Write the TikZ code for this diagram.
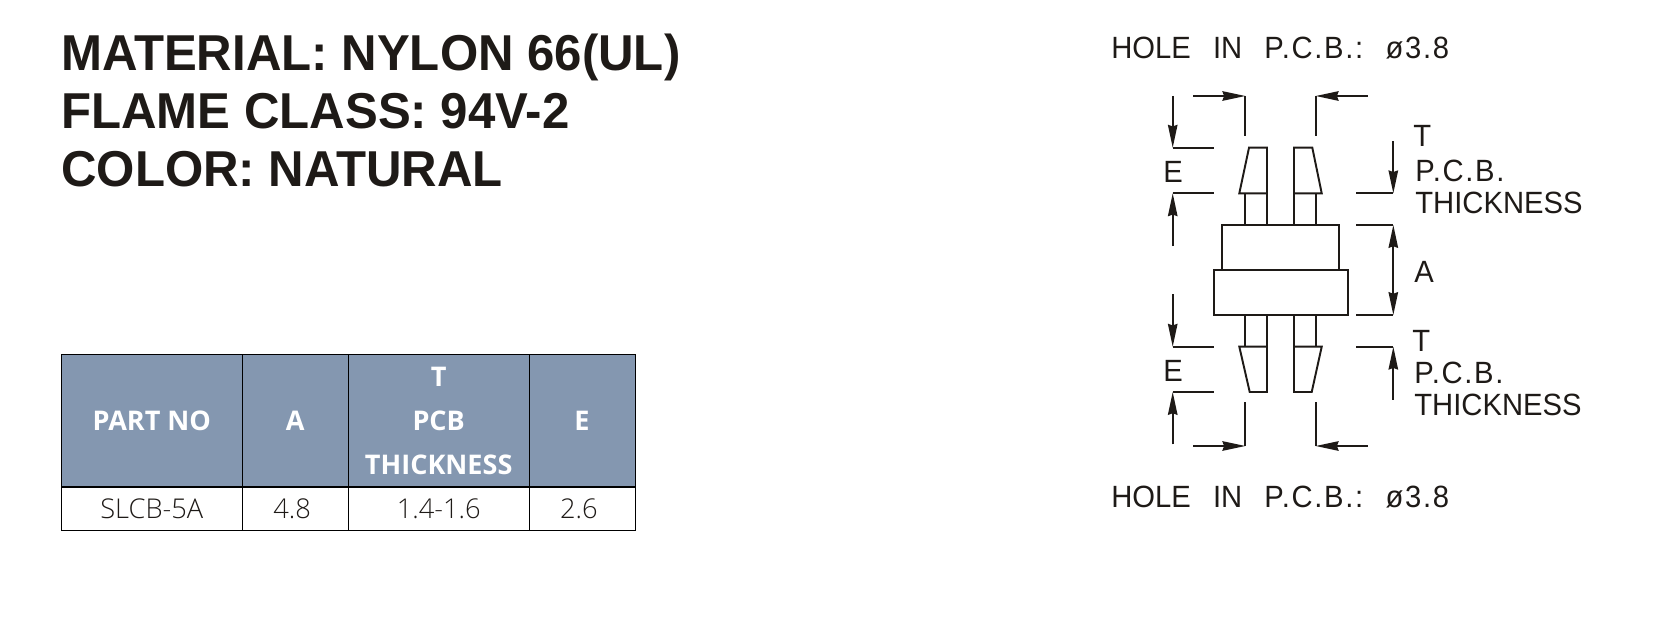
\documentclass[tikz,border=0pt]{standalone}
\usepackage{fontspec}
\setmainfont{Liberation Sans}
\newfontfamily\titlefont[FakeStretch=0.975]{Liberation Sans Bold}
\newfontfamily\tablefont{Open Sans}
\newfontfamily\tablelight{Open Sans Light}
\newfontfamily\cadfont[FakeStretch=0.95]{Liberation Sans}
\newfontfamily\cadwide[FakeStretch=0.95,LetterSpace=5.5]{Liberation Sans}
\usetikzlibrary{arrows.meta}
\definecolor{headblue}{HTML}{8497B0}
\definecolor{inkblack}{HTML}{1E1A17}
\begin{document}
\begin{tikzpicture}[x=0.02cm, y=-0.02cm, inkblack]
%% all coordinates are reference pixels, the y axis points down
\tikzstyle{arc}=[-{Stealth[length=13pt,width=5.4pt,inset=0.9pt]},line width=1pt]
\tikzstyle{part}=[line width=1.1pt,line join=miter]
\tikzstyle{ext}=[line width=1pt]
\tikzstyle{titletext}=[anchor=base west,inner sep=0pt,font=\fontsize{28.7}{30}\selectfont\titlefont]
\tikzstyle{cadtext}=[anchor=base west,inner sep=0pt,font=\fontsize{17.5}{20}\selectfont\cadfont]
\tikzstyle{headcell}=[draw=black,fill=headblue,text=white,line width=0.5pt,inner sep=0pt,minimum height=2.64cm,align=center,font=\fontsize{15.4}{25}\selectfont\tablefont\bfseries]
\tikzstyle{bodycell}=[draw=black,line width=0.5pt,inner sep=0pt,minimum height=0.86cm,font=\fontsize{15.5}{18}\selectfont\tablelight]
\useasboundingbox (0,0) rectangle (1665,642);
%% title lines
\node[titletext] at (61,71) (Material) {MATERIAL: NYLON 66(UL)};
\node[titletext] at (61,128.5) (Flame) {FLAME CLASS: 94V-2};
\node[titletext] at (61,186) (Colour) {COLOR: NATURAL};
%% table header
\node[headcell,minimum width=3.61cm] at (151.8,420.8) (HeadPart) {PART NO};
\node[headcell,minimum width=2.13cm] at (295.2,420.8) (HeadA) {A};
\node[headcell,minimum width=3.61cm] at (438.7,420.8) (HeadT) {T\\PCB\\THICKNESS};
\node[headcell,minimum width=2.12cm] at (582,420.8) (HeadE) {E};
%% table row
\node[bodycell,minimum width=3.61cm] at (151.8,508.5) (RowPart) {SLCB-5A};
\node[bodycell,minimum width=2.13cm] at (295.2,508.5) (RowA) {4.8\hspace*{3.6pt}};
\node[bodycell,minimum width=3.61cm] at (438.7,508.5) (RowT) {1.4-1.6};
\node[bodycell,minimum width=2.12cm] at (582,508.5) (RowE) {2.6\hspace*{3.6pt}};
%% drawing labels
\node[cadtext] at (1111,59) (HoleTop) {HOLE\hspace{8pt} IN\hspace{8pt} {\cadwide P.C.B.:}\hspace{6.5pt} {\cadwide ø3.8}};
\node[cadtext] at (1111,507) (HoleBottom) {HOLE\hspace{8pt} IN\hspace{8pt} {\cadwide P.C.B.:}\hspace{6.5pt} {\cadwide ø3.8}};
\node[cadtext] at (1163,182.5) (ETop) {E};
\node[cadtext] at (1163,381.5) (EBottom) {E};
\node[cadtext] at (1413,146.5) (TTop) {T};
\node[cadtext] at (1415,181) (PcbTop) {\cadwide P.C.B.};
\node[cadtext] at (1415,213) (ThickTop) {THICKNESS};
\node[cadtext] at (1414,282) (LabelA) {A};
\node[cadtext] at (1412,351) (TBottom) {T};
\node[cadtext] at (1414,383) (PcbBottom) {\cadwide P.C.B.};
\node[cadtext] at (1414,415) (ThickBottom) {THICKNESS};
%% body
\draw[part] (1222.3,270) -- (1222.3,225) -- (1338.7,225) -- (1338.7,270);
\draw[part] (1213.7,270) rectangle (1347.7,315);
%% upper pins
\draw[part] (1249,147.7) -- (1267,147.7) -- (1267,193.3) -- (1239.3,193.3) -- cycle;
\draw[part] (1294,147.7) -- (1312.3,147.7) -- (1321.7,193.3) -- (1294,193.3) -- cycle;
\draw[part] (1245.3,193.3) -- (1245.3,225);
\draw[part] (1267,193.3) -- (1267,225);
\draw[part] (1294,193.3) -- (1294,225);
\draw[part] (1315.7,193.3) -- (1315.7,225);
%% lower pins
\draw[part] (1239.3,346.7) -- (1267,346.7) -- (1267,392) -- (1249.7,392) -- cycle;
\draw[part] (1294,346.7) -- (1321.7,346.7) -- (1311.7,392) -- (1294,392) -- cycle;
\draw[part] (1245.3,315) -- (1245.3,346.7);
\draw[part] (1267,315) -- (1267,346.7);
\draw[part] (1294,315) -- (1294,346.7);
\draw[part] (1315.7,315) -- (1315.7,346.7);
%% hole arrows
\coordinate (HoleTL) at (1245.3,96);
\coordinate (HoleTR) at (1315.7,96);
\coordinate (HoleBL) at (1245.3,446);
\coordinate (HoleBR) at (1315.7,446);
\draw[ext] (HoleTL) -- (1245.3,136);
\draw[ext] (HoleTR) -- (1315.7,136);
\draw[ext] (HoleBL) -- (1245.3,402.3);
\draw[ext] (HoleBR) -- (1315.7,402.3);
\draw[arc] (1193,96) -- (HoleTL);
\draw[arc] (1367.7,96) -- (HoleTR);
\draw[arc] (1193,446) -- (HoleBL);
\draw[arc] (1367.7,446) -- (HoleBR);
%% E arrows
\coordinate (EA) at (1172.7,147.7);
\coordinate (EB) at (1172.7,193.3);
\coordinate (EC) at (1172.7,346.7);
\coordinate (ED) at (1172.7,392);
\draw[ext] (EA) -- (1214,147.7);
\draw[ext] (EB) -- (1214,193.3);
\draw[ext] (EC) -- (1214,346.7);
\draw[ext] (ED) -- (1214,392);
\draw[arc] (1172.7,96) -- (EA);
\draw[arc] (1172.7,246) -- (EB);
\draw[arc] (1172.7,294.3) -- (EC);
\draw[arc] (1172.7,444.3) -- (ED);
%% T and A arrows
\coordinate (TA) at (1393.3,193.3);
\coordinate (AA) at (1393.3,225);
\coordinate (AB) at (1393.3,315);
\coordinate (TB) at (1393.3,346.7);
\draw[ext] (1356.3,193.3) -- (TA);
\draw[ext] (1356.3,225) -- (AA);
\draw[ext] (1356.3,315) -- (AB);
\draw[ext] (1356.3,346.7) -- (TB);
\draw[arc] (1393.3,141) -- (TA);
\draw[arc] (1393.3,399.7) -- (TB);
\draw[arc,{Stealth[length=13pt,width=5.4pt,inset=0.9pt]}-{Stealth[length=13pt,width=5.4pt,inset=0.9pt]}] (AA) -- (AB);
\end{tikzpicture}
\end{document}
